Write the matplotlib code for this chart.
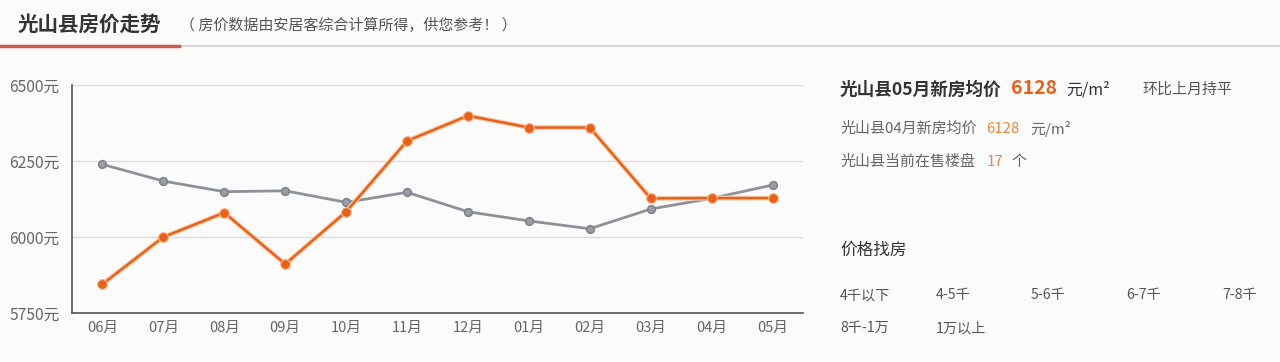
import matplotlib
matplotlib.use("Agg")
import matplotlib.pyplot as plt
from matplotlib.lines import Line2D

plt.rcParams['font.family'] = ['Noto Sans CJK SC', 'DejaVu Sans']

months = ["06月", "07月", "08月", "09月", "10月", "11月", "12月", "01月", "02月", "03月", "04月", "05月"]
county_price = [5845, 6000, 6080, 5911, 6083, 6316, 6399, 6360, 6360, 6127, 6128, 6128]
city_price = [6239, 6184, 6149, 6152, 6114, 6147, 6083, 6053, 6027, 6092, 6127, 6171]
y_ticks = [5750, 6000, 6250, 6500]
y_tick_labels = ["5750元", "6000元", "6250元", "6500元"]
price_ranges_row1 = ["4千以下", "4-5千", "5-6千", "6-7千", "7-8千"]
price_ranges_row2 = ["8千-1万", "1万以上"]

W, H = 1280, 362
BG = '#fbfbfb'
ORANGE = '#e8611a'
GRAY = '#8d9298'

fig = plt.figure(figsize=(W / 100, H / 100), dpi=100, facecolor=BG)

def px(x, y):
    return x / W, 1 - y / H

# Header
fig.text(*px(18, 25), "光山县房价走势", fontsize=14.8, fontweight='bold', color='#333333', va='center', ha='left')
fig.text(*px(180, 25), "（ 房价数据由安居客综合计算所得，供您参考！ ）", fontsize=10.8, color='#555555', va='center', ha='left')
fig.add_artist(Line2D([0, 1], [1 - 45.5 / H] * 2, color='#d6d6d6', lw=1.5, transform=fig.transFigure))
fig.add_artist(Line2D([0, 179 / W], [1 - 45.5 / H] * 2, color='#c8604a', lw=2.5, transform=fig.transFigure))

# Chart
left, right, top, bottom = 72, 803, 85, 313
ax = fig.add_axes([left / W, 1 - bottom / H, (right - left) / W, (bottom - top) / H])
ax.set_facecolor(BG)
x = list(range(len(months)))
ax.plot(x, city_price, color=GRAY, lw=2, marker='o', ms=5.5, mfc='#9a9ea4', mec='#80858b', mew=1.2, zorder=3)
ax.plot(x, county_price, color='#f8cfae', lw=3.5, zorder=3.5, solid_capstyle='round')
ax.plot(x, county_price, color=ORANGE, lw=1.8, marker='o', ms=7, mfc=ORANGE, mec='#f6b98f', mew=0.8, zorder=4)
ax.set_xlim(-0.5, len(months) - 0.5)
ax.set_ylim(5750, 6500)
ax.set_yticks(y_ticks)
ax.set_yticklabels(y_tick_labels)
ax.set_xticks(x)
ax.set_xticklabels(months)
ax.tick_params(axis='both', length=0, labelcolor='#666666')
ax.tick_params(axis='y', pad=9, labelsize=11.3)
ax.tick_params(axis='x', pad=6, labelsize=10.5)
ax.grid(axis='y', color='#dcdcdc', lw=1)
ax.set_axisbelow(True)
for s in ['top', 'right']:
    ax.spines[s].set_visible(False)
for s in ['left', 'bottom']:
    ax.spines[s].set_color('#555555')
    ax.spines[s].set_linewidth(1.2)

# Right panel
fig.text(*px(840, 90), "光山县05月新房均价", fontsize=12.7, fontweight='bold', color='#333333', va='center')
fig.text(*px(1011, 89), "6128", fontsize=14, fontweight='bold', color=ORANGE, va='center')
fig.text(*px(1066, 90), "元/m²", fontsize=11.5, color='#333333', va='center')
fig.text(*px(1142, 90), "环比上月持平", fontsize=10.8, color='#555555', va='center')

fig.text(*px(840, 129), "光山县04月新房均价", fontsize=10.8, color='#666666', va='center')
fig.text(*px(986, 129), "6128", fontsize=10.8, color='#e8873f', va='center')
fig.text(*px(1030, 129), "元/m²", fontsize=10.8, color='#666666', va='center')

fig.text(*px(840, 162), "光山县当前在售楼盘", fontsize=10.8, color='#666666', va='center')
fig.text(*px(987, 162), "17", fontsize=10.8, color='#e8873f', va='center')
fig.text(*px(1012, 162), "个", fontsize=10.8, color='#666666', va='center')

fig.text(*px(840, 250), "价格找房", fontsize=12, color='#333333', va='center')
for i, t in enumerate(price_ranges_row1):
    fig.text(*px(840 + i * 95.5, 295), t, fontsize=10.2, color='#555555', va='center')
for i, t in enumerate(price_ranges_row2):
    fig.text(*px(840 + i * 95.5, 328), t, fontsize=10.2, color='#555555', va='center')

fig.savefig("out.png", dpi=100, facecolor=BG)
